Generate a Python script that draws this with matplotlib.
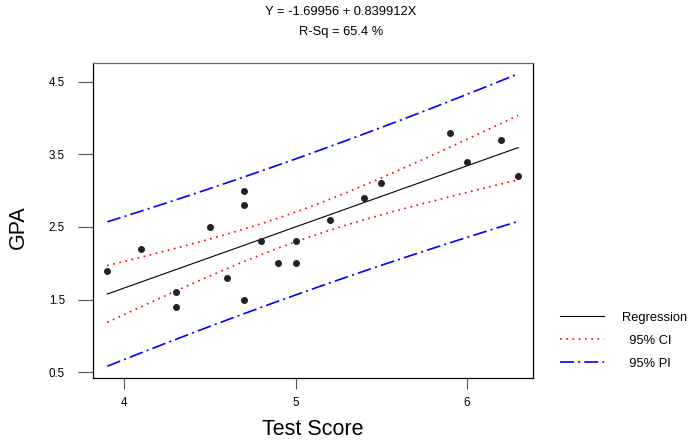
import numpy as np
import matplotlib
matplotlib.use("Agg")
import matplotlib.pyplot as plt

plt.rcParams["font.family"] = ["Liberation Sans", "DejaVu Sans"]
plt.rcParams["lines.scale_dashes"] = False

# test score vs GPA
test_score = [3.9, 4.1, 4.3, 4.3, 4.5, 4.6, 4.7, 4.7, 4.7, 4.8,
              4.9, 5.0, 5.0, 5.2, 5.4, 5.5, 5.9, 6.0, 6.2, 6.3]
gpa = [1.9, 2.2, 1.6, 1.4, 2.5, 1.8, 3.0, 2.8, 1.5, 2.3,
       2.0, 2.3, 2.0, 2.6, 2.9, 3.1, 3.8, 3.4, 3.7, 3.2]

x_ticks = [4, 5, 6]
y_ticks = [0.5, 1.5, 2.5, 3.5, 4.5]
t_crit = 2.100922  # t(0.975, df=18)

x = np.array(test_score)
y = np.array(gpa)
n = len(x)
b1, b0 = np.polyfit(x, y, 1)
resid = y - (b0 + b1 * x)
s = np.sqrt(np.sum(resid ** 2) / (n - 2))
sxx = np.sum((x - x.mean()) ** 2)
r2 = 1 - np.sum(resid ** 2) / np.sum((y - y.mean()) ** 2)

xs = np.linspace(x.min(), x.max(), 200)
fit = b0 + b1 * xs
se_ci = s * np.sqrt(1 / n + (xs - x.mean()) ** 2 / sxx)
se_pi = s * np.sqrt(1 + 1 / n + (xs - x.mean()) ** 2 / sxx)

fig = plt.figure(figsize=(6.88, 4.44), dpi=100)
ax = fig.add_axes([0.1352, 0.1486, 0.6395, 0.7095])

ci_style = (0, (1.2, 3.3))
pi_style = (0, (10, 3, 1.5, 3))

ax.scatter(x, y, s=16, color="#222222", zorder=3)
l1, = ax.plot(xs, fit, color="black", lw=0.8)
l2, = ax.plot(xs, fit + t_crit * se_ci, color="red", lw=1.2, ls=ci_style)
ax.plot(xs, fit - t_crit * se_ci, color="red", lw=1.2, ls=ci_style)
l3, = ax.plot(xs, fit + t_crit * se_pi, color="blue", lw=1.2, ls=pi_style)
ax.plot(xs, fit - t_crit * se_pi, color="blue", lw=1.2, ls=pi_style)

ax.set_xlim(3.817, 6.387)
ax.set_ylim(0.42, 4.757)
ax.set_xticks(x_ticks)
ax.set_xticklabels([str(v) for v in x_ticks])
ax.set_yticks(y_ticks)
ax.set_yticklabels([str(v) for v in y_ticks])
ax.tick_params(axis="y", length=10.8, width=0.8, color="#555555", pad=9.5, labelsize=8.4)
ax.tick_params(axis="x", length=8, width=0.8, color="#555555", pad=6, labelsize=8.4)
for sp in ax.spines.values():
    sp.set_linewidth(0.9)
ax.spines["top"].set_color("#666666")

ax.set_xlabel("Test Score", fontsize=15.5)
ax.set_ylabel("GPA", fontsize=15.5)
ax.xaxis.set_label_coords(0.5, -0.165)
ax.yaxis.set_label_coords(-0.170, 0.48)
ax.xaxis.label.set_va("center")
ax.yaxis.label.set_va("center")

fig.text(341 / 688, 1 - 12 / 444, "Y = %.5f + %.6fX" % (b0, b1),
         ha="center", va="center", fontsize=9.3)
fig.text(341 / 688, 1 - 32 / 444, "R-Sq = %.1f %%" % (r2 * 100),
         ha="center", va="center", fontsize=9.3)

fig.legend([l1, l2, l3], ["Regression", "  95% CI", "  95% PI"],
           loc="upper left", bbox_to_anchor=(548 / 688, 1 - 300 / 444),
           frameon=False, fontsize=9.3, handlelength=3.4,
           handletextpad=1.4, labelspacing=0.85)

fig.savefig("out.png", dpi=100)
